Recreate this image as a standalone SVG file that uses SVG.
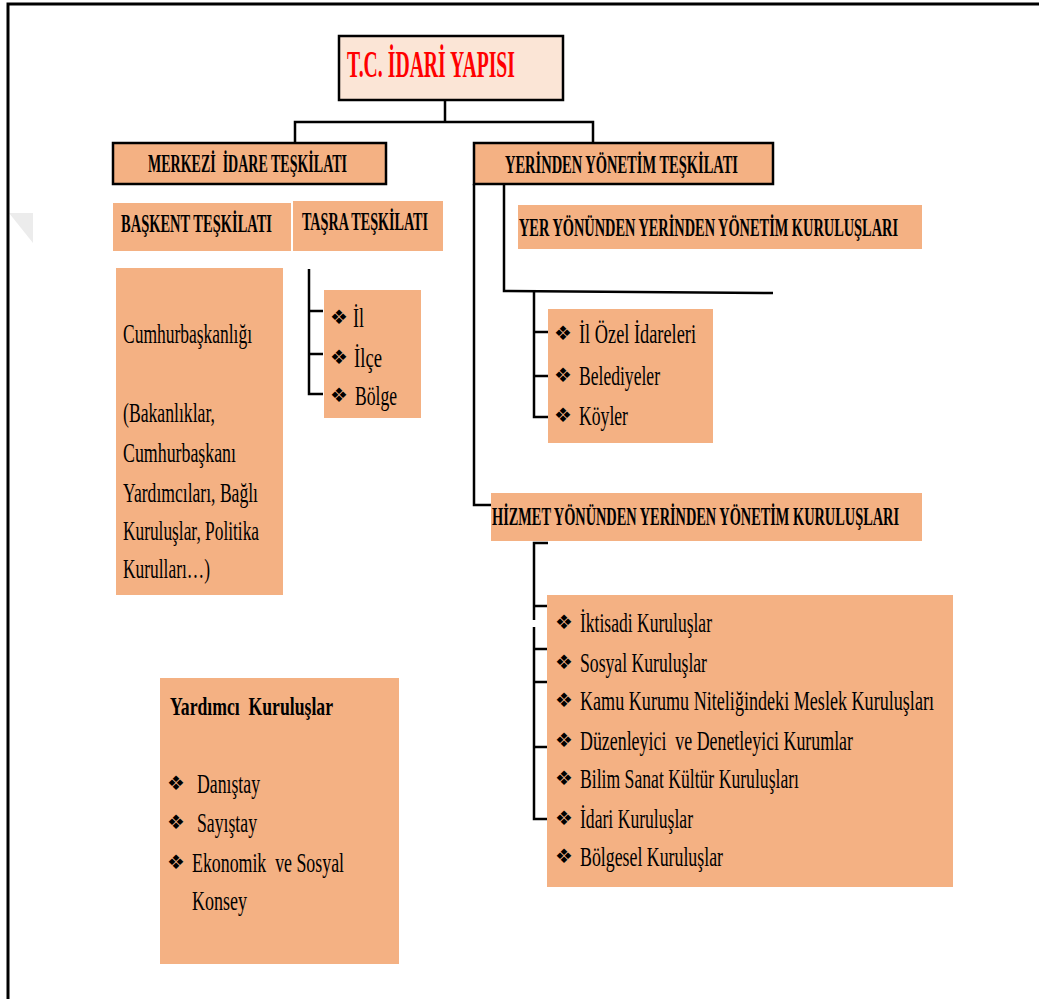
<svg xmlns="http://www.w3.org/2000/svg" width="1039" height="999" viewBox="0 0 1039 999">
<style>
.box{fill:#f4b183}
.sbox{fill:#f4b183;stroke:#000;stroke-width:2.5}
.hd{font-family:"Liberation Serif","DejaVu Serif","Times New Roman",serif;font-weight:bold;font-size:25px;fill:#000}
.tx{font-family:"Liberation Serif","DejaVu Serif","Times New Roman",serif;font-size:28px;fill:#000}
.ti{font-family:"Liberation Serif","DejaVu Serif","Times New Roman",serif;font-weight:bold;font-size:38px;fill:#ff0000}
.bu{font-family:"DejaVu Sans",sans-serif;font-size:20px;fill:#000;text-anchor:middle}
.pre{white-space:pre}
.ln{fill:none;stroke:#000;stroke-width:2.5}
</style>
<rect x="0" y="0" width="1039" height="999" fill="#fff"/>
<polygon points="9,213 33,213 33,243" fill="#ececec"/>
<path d="M8,999 V4 H1039" fill="none" stroke="#000" stroke-width="3"/>

<g id="connectors">
<path class="ln" d="M445,100 V122 M295,143 V122 H593 V143"/>
<path class="ln" d="M474,184 V505 H491"/>
<path class="ln" d="M504,184 V291 L773,293"/>
<path class="ln" d="M534,291 V417 H549 M534,332 H549 M534,376 H549"/>
<path class="ln" d="M309,269 V394 H323 M309,311 H323 M309,354 H323"/>
<path class="ln" d="M548,543 H534 V620 M534,627 V819 H548 M534,606 H548 M534,649 H548 M534,682 H548 M534,747 H548"/>
</g>

<g id="title">
<rect x="339" y="36" width="224" height="64" fill="#fbe5d6" stroke="#000" stroke-width="2.5"/>
<text class="ti" x="347" y="77" textLength="168" lengthAdjust="spacingAndGlyphs">T.C. İDARİ YAPISI</text>
</g>

<g id="merkezi">
<rect class="sbox" x="113" y="143" width="273" height="41"/>
<text class="hd pre" x="148" y="172" textLength="199" lengthAdjust="spacingAndGlyphs">MERKEZİ  İDARE TEŞKİLATI</text>
</g>

<g id="yerinden">
<rect class="sbox" x="474" y="143" width="299" height="41"/>
<text class="hd" x="505" y="173" textLength="233" lengthAdjust="spacingAndGlyphs">YERİNDEN YÖNETİM TEŞKİLATI</text>
</g>

<g id="baskent">
<rect class="box" x="113" y="203" width="178" height="48"/>
<text class="hd" x="121" y="232" textLength="151" lengthAdjust="spacingAndGlyphs">BAŞKENT TEŞKİLATI</text>
</g>

<g id="tasra">
<rect class="box" x="293" y="201" width="150" height="50"/>
<text class="hd" x="302" y="230" textLength="126" lengthAdjust="spacingAndGlyphs">TAŞRA TEŞKİLATI</text>
</g>

<g id="cumhurbaskanligi">
<rect class="box" x="116" y="268" width="167" height="327"/>
<text class="tx" x="123" y="343" textLength="129" lengthAdjust="spacingAndGlyphs">Cumhurbaşkanlığı</text>
<text class="tx" x="123" y="422" textLength="92" lengthAdjust="spacingAndGlyphs">(Bakanlıklar,</text>
<text class="tx" x="123" y="462" textLength="113" lengthAdjust="spacingAndGlyphs">Cumhurbaşkanı</text>
<text class="tx" x="123" y="502" textLength="135" lengthAdjust="spacingAndGlyphs">Yardımcıları, Bağlı</text>
<text class="tx" x="123" y="540" textLength="136" lengthAdjust="spacingAndGlyphs">Kuruluşlar, Politika</text>
<text class="tx" x="123" y="578" textLength="87" lengthAdjust="spacingAndGlyphs">Kurulları…)</text>
</g>

<g id="tasra-list">
<rect class="box" x="324" y="290" width="97" height="128"/>
<text class="bu" x="339" y="324">❖</text>
<text class="tx" x="353" y="327" textLength="11" lengthAdjust="spacingAndGlyphs">İl</text>
<text class="bu" x="339" y="364">❖</text>
<text class="tx" x="354" y="367" textLength="28" lengthAdjust="spacingAndGlyphs">İlçe</text>
<text class="bu" x="339" y="402">❖</text>
<text class="tx" x="355" y="405" textLength="42" lengthAdjust="spacingAndGlyphs">Bölge</text>
</g>

<g id="yer-yonunden">
<rect class="box" x="518" y="205" width="404" height="44"/>
<text class="hd" x="519" y="236" textLength="379" lengthAdjust="spacingAndGlyphs">YER YÖNÜNDEN YERİNDEN YÖNETİM KURULUŞLARI</text>
</g>

<g id="yer-list">
<rect class="box" x="548" y="309" width="165" height="134"/>
<text class="bu" x="563" y="340">❖</text>
<text class="tx" x="579" y="343" textLength="117" lengthAdjust="spacingAndGlyphs">İl Özel İdareleri</text>
<text class="bu" x="563" y="382">❖</text>
<text class="tx" x="579" y="385" textLength="81" lengthAdjust="spacingAndGlyphs">Belediyeler</text>
<text class="bu" x="563" y="422">❖</text>
<text class="tx" x="579" y="425" textLength="49" lengthAdjust="spacingAndGlyphs">Köyler</text>
</g>

<g id="hizmet-yonunden">
<rect class="box" x="491" y="493" width="431" height="48"/>
<text class="hd" x="492" y="525" font-size="23" textLength="407" lengthAdjust="spacingAndGlyphs">HİZMET YÖNÜNDEN YERİNDEN YÖNETİM KURULUŞLARI</text>
</g>

<g id="hizmet-list">
<rect class="box" x="547" y="595" width="406" height="292"/>
<text class="bu" x="564" y="629">❖</text>
<text class="tx" x="580" y="632" textLength="132" lengthAdjust="spacingAndGlyphs">İktisadi Kuruluşlar</text>
<text class="bu" x="564" y="669">❖</text>
<text class="tx" x="580" y="672" textLength="127" lengthAdjust="spacingAndGlyphs">Sosyal Kuruluşlar</text>
<text class="bu" x="564" y="707">❖</text>
<text class="tx" x="580" y="710" textLength="354" lengthAdjust="spacingAndGlyphs">Kamu Kurumu Niteliğindeki Meslek Kuruluşları</text>
<text class="bu" x="564" y="747">❖</text>
<text class="tx pre" x="580" y="750" textLength="273" lengthAdjust="spacingAndGlyphs">Düzenleyici  ve Denetleyici Kurumlar</text>
<text class="bu" x="564" y="785">❖</text>
<text class="tx" x="580" y="788" textLength="219" lengthAdjust="spacingAndGlyphs">Bilim Sanat Kültür Kuruluşları</text>
<text class="bu" x="564" y="825">❖</text>
<text class="tx" x="580" y="828" textLength="113" lengthAdjust="spacingAndGlyphs">İdari Kuruluşlar</text>
<text class="bu" x="564" y="863">❖</text>
<text class="tx" x="580" y="866" textLength="143" lengthAdjust="spacingAndGlyphs">Bölgesel Kuruluşlar</text>
</g>

<g id="yardimci">
<rect class="box" x="160" y="678" width="239" height="286"/>
<text class="hd pre" x="170" y="715" font-size="26" textLength="163" lengthAdjust="spacingAndGlyphs">Yardımcı  Kuruluşlar</text>
<text class="bu" x="176" y="790">❖</text>
<text class="tx" x="197" y="793" textLength="63" lengthAdjust="spacingAndGlyphs">Danıştay</text>
<text class="bu" x="176" y="829">❖</text>
<text class="tx" x="197" y="832" textLength="60" lengthAdjust="spacingAndGlyphs">Sayıştay</text>
<text class="bu" x="176" y="869">❖</text>
<text class="tx pre" x="192" y="872" textLength="152" lengthAdjust="spacingAndGlyphs">Ekonomik  ve Sosyal</text>
<text class="tx" x="192" y="910" textLength="55" lengthAdjust="spacingAndGlyphs">Konsey</text>
</g>
</svg>
